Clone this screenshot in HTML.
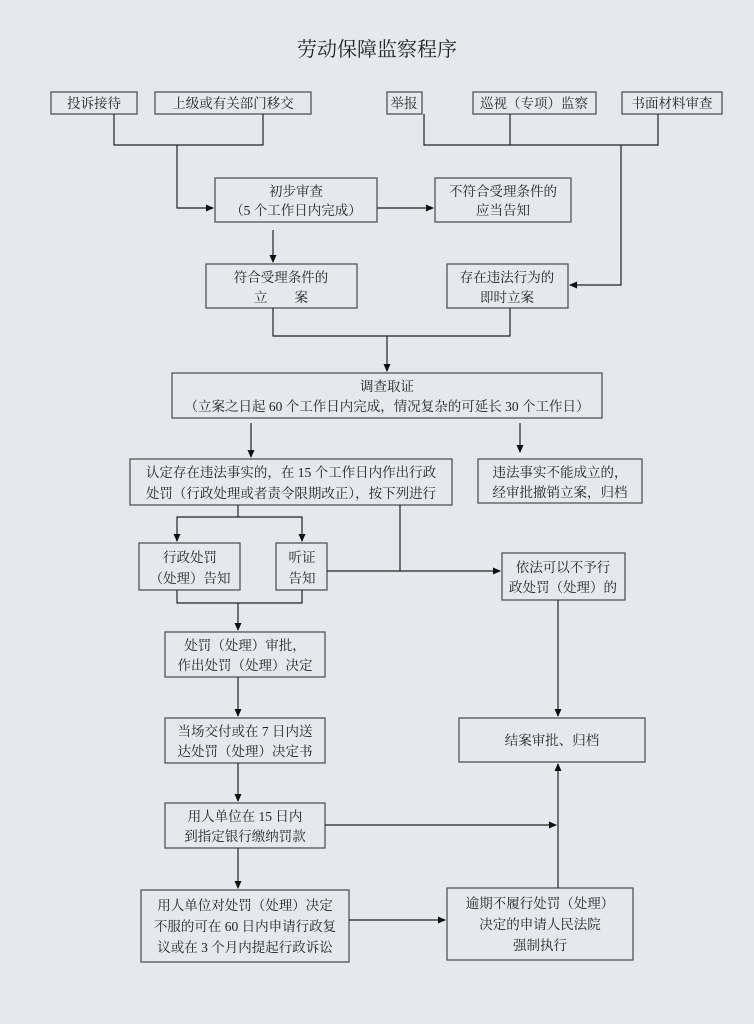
<!DOCTYPE html>
<html><head><meta charset="utf-8"><style>
html,body{margin:0;padding:0;background:#e5e9ed;}
svg{display:block}
text{font-family:"Liberation Serif","Noto Serif CJK SC","Noto Sans CJK SC",serif;font-size:13.5px;fill:#222;}
</style></head><body>
<svg width="754" height="1024" viewBox="0 0 754 1024" xmlns="http://www.w3.org/2000/svg">
<defs><marker id="a" markerWidth="8" markerHeight="8" refX="7" refY="4" orient="auto" markerUnits="userSpaceOnUse"><path d="M0,0.5 L8,4 L0,7.5 Z" fill="#111"/></marker></defs>
<rect width="754" height="1024" fill="#e5e9ed"/>
<text x="377" y="56" text-anchor="middle" style="font-size:20px">劳动保障监察程序</text>
<g fill="none" stroke="#555" stroke-width="1.3">
<rect x="51" y="92" width="86" height="22"/><rect x="155" y="92" width="156" height="22"/>
<rect x="387" y="92" width="35" height="22"/><rect x="473" y="92" width="123" height="22"/><rect x="622" y="92" width="100" height="22"/>
<rect x="215" y="178" width="162" height="44"/><rect x="435" y="178" width="136" height="44"/>
<rect x="206" y="264" width="151" height="44"/><rect x="447" y="264" width="121" height="44"/>
<rect x="172" y="373" width="430" height="45"/>
<rect x="130" y="459" width="322" height="46"/><rect x="478" y="459" width="164" height="44"/>
<rect x="139" y="543" width="101" height="47"/><rect x="276" y="543" width="51" height="47"/>
<rect x="502" y="553" width="123" height="47"/>
<rect x="165" y="632" width="160" height="45"/><rect x="165" y="718" width="160" height="45"/>
<rect x="165" y="803" width="160" height="45"/><rect x="141" y="890" width="208" height="72"/>
<rect x="459" y="718" width="186" height="44"/><rect x="447" y="888" width="186" height="72"/>
</g>
<g fill="none" stroke="#222" stroke-width="1.2">
<path d="M114,114V145H263V114M177,145V208H213" marker-end="url(#a)"/>
<path d="M377,208H433" marker-end="url(#a)"/>
<path d="M424,114V145H658V114M510,114V145M621,145V285H570" marker-end="url(#a)"/>
<path d="M273,230V262" marker-end="url(#a)"/>
<path d="M273,308V336H510V308M387,336V371" marker-end="url(#a)"/>
<path d="M251,423V457" marker-end="url(#a)"/>
<path d="M520,423V452" marker-end="url(#a)"/>
<path d="M238,505V517H177V541" marker-end="url(#a)"/>
<path d="M238,517H302V541" marker-end="url(#a)"/>
<path d="M400,505V571M327,571H500" marker-end="url(#a)"/>
<path d="M177,590V603H302V590M238,603V630" marker-end="url(#a)"/>
<path d="M238,677V716" marker-end="url(#a)"/>
<path d="M238,763V801" marker-end="url(#a)"/>
<path d="M238,848V888" marker-end="url(#a)"/>
<path d="M558,600V716" marker-end="url(#a)"/>
<path d="M325,825H556" marker-end="url(#a)"/>
<path d="M558,888V764" marker-end="url(#a)"/>
<path d="M349,920H445" marker-end="url(#a)"/>
</g>
<g text-anchor="middle">
<text x="94" y="108">投诉接待</text><text x="233" y="108">上级或有关部门移交</text>
<text x="404" y="108">举报</text><text x="534" y="108">巡视（专项）监察</text><text x="672" y="108">书面材料审查</text>
<text x="296" y="196">初步审查</text><text x="296" y="215">（5 个工作日内完成）</text>
<text x="503" y="196">不符合受理条件的</text><text x="503" y="215">应当告知</text>
<text x="281" y="282">符合受理条件的</text><text x="281" y="302">立　　案</text>
<text x="507" y="282">存在违法行为的</text><text x="507" y="302">即时立案</text>
<text x="387" y="391">调查取证</text><text x="387" y="411">（立案之日起 60 个工作日内完成，情况复杂的可延长 30 个工作日）</text>
<text x="291" y="477">认定存在违法事实的，在 15 个工作日内作出行政</text>
<text x="291" y="498">处罚（行政处理或者责令限期改正），按下列进行</text>
<text x="560" y="477">违法事实不能成立的，</text><text x="560" y="497">经审批撤销立案，归档</text>
<text x="190" y="562">行政处罚</text><text x="190" y="583">（处理）告知</text>
<text x="302" y="562">听证</text><text x="302" y="583">告知</text>
<text x="563" y="572">依法可以不予行</text><text x="563" y="592">政处罚（处理）的</text>
<text x="245" y="650">处罚（处理）审批，</text><text x="245" y="670">作出处罚（处理）决定</text>
<text x="245" y="736">当场交付或在 7 日内送</text><text x="245" y="756">达处罚（处理）决定书</text>
<text x="245" y="821">用人单位在 15 日内</text><text x="245" y="841">到指定银行缴纳罚款</text>
<text x="245" y="910">用人单位对处罚（处理）决定</text><text x="245" y="931">不服的可在 60 日内申请行政复</text><text x="245" y="952">议或在 3 个月内提起行政诉讼</text>
<text x="552" y="745">结案审批、归档</text>
<text x="540" y="908">逾期不履行处罚（处理）</text><text x="540" y="929">决定的申请人民法院</text><text x="540" y="950">强制执行</text>
</g>
</svg>
</body></html>
